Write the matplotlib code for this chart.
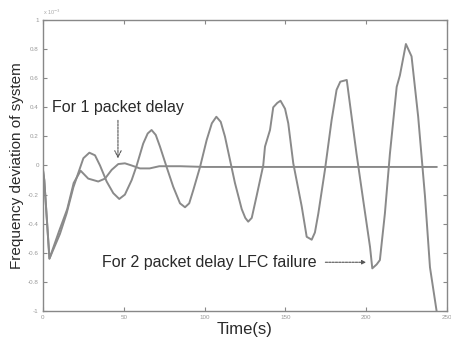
import matplotlib
matplotlib.use("Agg")
import matplotlib.pyplot as plt

# Response with 2 packet delay (LFC failure): growing oscillation
t_two = [0.0, 0.8, 4.0, 10.5, 14.6, 18.8, 21.9, 25.0, 28.7, 32.2, 35.3, 39.4,
         43.5, 47.2, 50.7, 54.9, 58.0, 62.0, 64.8, 67.2, 69.8, 72.4, 76.5, 80.6,
         84.8, 87.9, 90.5, 93.0, 97.2, 101.3, 104.5, 107.3, 110.0, 112.6, 115.7,
         118.8, 123.0, 125.2, 127.0, 129.2, 132.2, 136.3, 137.4, 140.5, 142.5,
         145.0, 147.0, 149.8, 151.8, 154.9, 160.1, 163.2, 166.3, 168.3, 170.4,
         174.5, 178.6, 181.7, 184.0, 188.0, 191.0, 194.0, 198.2, 202.4, 203.8,
         206.5, 208.5, 211.6, 214.7, 218.9, 220.9, 224.6, 228.1, 232.2, 236.4,
         239.5, 243.6]
y_two = [-0.03, -0.10, -0.64, -0.47, -0.33, -0.15, -0.05, 0.05, 0.088, 0.07,
         0.0, -0.11, -0.19, -0.23, -0.20, -0.10, 0.0, 0.15, 0.22, 0.244, 0.21,
         0.13, -0.01, -0.146, -0.26, -0.287, -0.26, -0.17, -0.01, 0.175, 0.29,
         0.335, 0.30, 0.20, 0.04, -0.12, -0.30, -0.36, -0.386, -0.36, -0.21, 0.0,
         0.13, 0.244, 0.40, 0.43, 0.445, 0.39, 0.29, 0.015, -0.28, -0.49, -0.51,
         -0.46, -0.33, -0.03, 0.31, 0.52, 0.576, 0.588, 0.335, 0.084, -0.24,
         -0.56, -0.707, -0.68, -0.65, -0.33, 0.08, 0.54, 0.62, 0.835, 0.75,
         0.335, -0.21, -0.70, -1.0]

# Response with 1 packet delay: settles to zero
t_one = [0.0, 0.8, 4.0, 10.0, 15.0, 19.0, 23.3, 28.0, 34.2, 38.4, 42.5, 46.6,
         50.7, 54.9, 60.0, 66.0, 72.0, 85.0, 100.0, 130.0, 160.0, 190.0, 220.0,
         243.6]
y_one = [-0.03, -0.10, -0.64, -0.45, -0.30, -0.12, -0.036, -0.09, -0.11, -0.09,
         -0.03, 0.01, 0.015, 0.0, -0.02, -0.02, -0.005, -0.005, -0.01, -0.01,
         -0.01, -0.01, -0.01, -0.01]

x_ticks = [0, 50, 100, 150, 200, 250]
y_ticks = [-1, -0.8, -0.6, -0.4, -0.2, 0, 0.2, 0.4, 0.6, 0.8, 1]
y_tick_labels = ["-1", "-0.8", "-0.6", "-0.4", "-0.2", "0", "0.2", "0.4", "0.6", "0.8", "1"]

plt.rcParams['font.family'] = ['Liberation Sans', 'DejaVu Sans']

fig = plt.figure(figsize=(4.51, 3.39), dpi=100)
ax = fig.add_axes([0.0953, 0.0826, 0.8957, 0.8584])

line_col = "#8a8a8a"
ax.plot(t_two, y_two, color=line_col, lw=1.4)
ax.plot(t_one, y_one, color=line_col, lw=1.4)

ax.set_xlim(0, 250)
ax.set_ylim(-1, 1)
ax.set_xticks(x_ticks)
ax.set_xticklabels([str(v) for v in x_ticks])
ax.set_yticks(y_ticks)
ax.set_yticklabels(y_tick_labels)
ax.tick_params(direction="in", top=True, right=True, length=3, width=0.8,
               colors="#888888", labelsize=4.5, labelcolor="#999999", pad=3)
for s in ax.spines.values():
    s.set_color("#888888")
    s.set_linewidth(1.0)

ax.text(0.0, 1.012, r"x 10$^{-3}$", transform=ax.transAxes, fontsize=4,
        color="#aaaaaa", ha="left", va="bottom")

ax.set_xlabel("Time(s)", fontsize=12, color="#2a2a2a", labelpad=1)
ax.set_ylabel("Frequency deviation of system", fontsize=11, color="#2a2a2a",
              labelpad=3)

ax.annotate("For 1 packet delay", xy=(46.4, 0.03), xytext=(46.4, 0.40),
            ha="center", va="center", fontsize=11.5, color="#2a2a2a",
            arrowprops=dict(arrowstyle="->", color="#555555", lw=0.8,
                            linestyle=(0, (2, 1))))
ax.annotate("For 2 packet delay LFC failure", xy=(200, -0.665), xytext=(169.6, -0.665),
            ha="right", va="center", fontsize=11.5, color="#2a2a2a",
            arrowprops=dict(arrowstyle="-|>", color="#555555", lw=0.8,
                            linestyle=(0, (2, 1)), shrinkA=4, shrinkB=0,
                            mutation_scale=6))

fig.savefig("out.png", dpi=100)
